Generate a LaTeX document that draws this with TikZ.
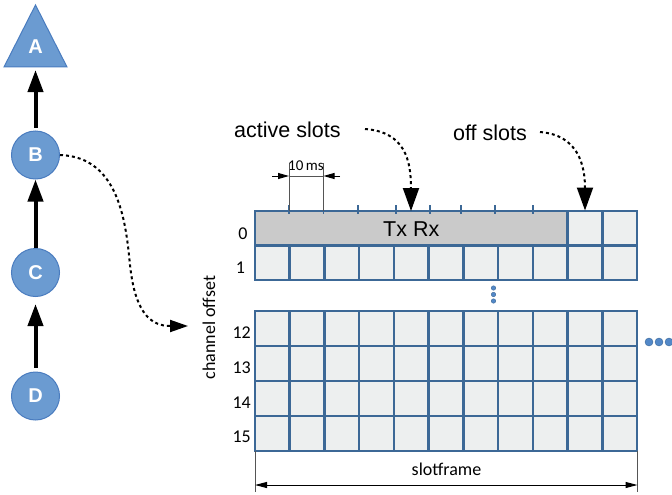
\documentclass[tikz,border=0pt]{standalone}
\usepackage{fontspec}
\setmainfont{Liberation Sans}
\newfontfamily\carl{Carlito}
\usetikzlibrary{arrows.meta}
\definecolor{nodefill}{HTML}{6B9BD1}
\definecolor{nodeedge}{HTML}{4A7CBF}
\definecolor{gridcol}{HTML}{3C6896}
\definecolor{cellfill}{HTML}{EDEFEF}
\definecolor{activefill}{HTML}{CACACA}
\definecolor{dotblue}{HTML}{5288C8}
\definecolor{dimgray}{HTML}{555555}
\begin{document}
\begin{tikzpicture}[x=1pt,y=-1pt,
  netnode/.style={circle,fill=nodefill,draw=nodeedge,line width=1pt,minimum size=48pt,inner sep=0pt,text=white,font=\fontsize{20}{20}\selectfont\bfseries},
  lettr/.style={text=white,inner sep=0pt,font=\fontsize{20}{20}\selectfont\bfseries},
  tree/.style={line width=4pt,-{Triangle[width=15pt,length=22pt]}},
  dotarrow/.style={line width=2pt,dash pattern=on 3pt off 3pt,-{Triangle[width=16pt,length=23pt]}},
  dotarrowb/.style={line width=2pt,dash pattern=on 3pt off 3pt,-{Triangle[width=12pt,length=18pt]}},
  gridl/.style={draw=gridcol,line width=2.5pt},
  tick/.style={draw=gridcol,line width=1.5pt},
  dimline/.style={draw=dimgray,line width=1pt},
  dimarrow/.style={draw=black,line width=1pt,-{Triangle[width=6pt,length=11pt]}},
  lbl/.style={inner sep=0pt,font=\fontsize{21.5}{24}\selectfont},
  rowlbl/.style={inner sep=0pt,anchor=base,font=\carl\fontsize{18}{20}\selectfont},
  smalllbl/.style={inner sep=0pt,font=\carl\fontsize{15}{17}\selectfont},
  dotsty/.style={circle,fill=dotblue,draw=gridcol,line width=0.4pt,inner sep=0pt}
]
\useasboundingbox (0,0) rectangle (672,495);

% ---------- tree ----------
\draw[fill=nodefill,draw=nodeedge,line width=1pt] (4,67) -- (35.5,5) -- (67,67) -- cycle;
\node[lettr] (A) at (35.5,47) {A};
\coordinate (Atip) at (35.5,70);
\node[netnode] (B) at (35.5,155) {B};
\node[netnode] (C) at (35.5,272.5) {C};
\node[netnode] (D) at (35.5,396) {D};
\draw[tree,shorten <=3pt] (B) -- (Atip);
\draw[tree] (C) -- (B);
\draw[tree,shorten <=4pt,shorten >=7pt] (D) -- (C);

% ---------- grid block rows 0-1 ----------
\fill[cellfill] (255,211) rectangle (637,280);
\fill[activefill] (255,211) rectangle (567.5,245.5);
\draw[gridl] (255,211) rectangle (637,280);
\draw[gridl] (255,245.5) -- (637,245.5);
\draw[gridl] (567.5,211) -- (567.5,245.5);
\draw[gridl] (602.3,211) -- (602.3,245.5);
\foreach \i in {1,...,10}{
  \draw[gridl] ({255+\i*34.727},245.5) -- ({255+\i*34.727},280);
}
% ticks
\foreach \x in {289,323.5,358,396,430,461,495,533}{
  \draw[tick] (\x,205) -- (\x,214);
}

% ---------- grid block rows 12-15 ----------
\fill[cellfill] (255,311) rectangle (637,451);
\foreach \i in {1,...,10}{
  \draw[gridl] ({255+\i*34.727},311) -- ({255+\i*34.727},451);
}
\foreach \r in {1,2,3}{
  \draw[gridl] (255,{311+\r*35}) -- (637,{311+\r*35});
}
\draw[gridl] (255,311) rectangle (637,451);

% ---------- dots ----------
\foreach \y [count=\k] in {288,294.5,301}{
  \node[dotsty,minimum size=4.5pt] (vd\k) at (493.5,\y) {};
}
\foreach \x [count=\k] in {649,659,669}{
  \node[dotsty,minimum size=8pt] (hd\k) at (\x,342) {};
}

% ---------- labels ----------
\node[lbl,anchor=base west] (act) at (234,137) {active slots};
\node[lbl,anchor=base west] (off) at (453,140) {off slots};
\node[lbl,anchor=base west] (txrx) at (383,236) {Tx Rx};
\node[rowlbl] (r0) at (243,239) {0};
\node[rowlbl] (r1) at (240.5,273) {1};
\node[rowlbl] (r12) at (241.7,338) {12};
\node[rowlbl] (r13) at (241.7,373) {13};
\node[rowlbl] (r14) at (241.7,408) {14};
\node[rowlbl] (r15) at (241.7,442.5) {15};
\node[inner sep=0pt,rotate=90,anchor=base,font=\carl\fontsize{18}{20}\selectfont] (chan) at (215,327.5) {channel offset};

% ---------- dotted arrows ----------
\coordinate (actstart) at (365,129);
\coordinate (acttip) at (411,211);
\draw[dotarrow] (actstart) .. controls (405,132) and (411,160) .. (acttip);
\coordinate (offstart) at (540,132);
\coordinate (offtip) at (585,210.5);
\draw[dotarrow] (offstart) .. controls (578,135) and (585,165) .. (offtip);
\coordinate (gridin) at (188,326);
\draw[dotarrowb] (B.east) .. controls (120,157) and (126,225) .. (130,265) .. controls (135,312) and (150,326) .. (gridin);

% ---------- 10 ms dimension ----------
\coordinate (ms1) at (289,211);
\coordinate (ms2) at (323.5,211);
\draw[dimline] (ms1) -- (289,163);
\draw[dimline] (ms2) -- (323.5,163);
\draw[dimline] (289,176) -- (323.5,176);
\coordinate (msl) at (272,176);
\coordinate (msr) at (340,176);
\draw[dimarrow] (msl) -- (289,176);
\draw[dimarrow] (msr) -- (323.5,176);
\node[smalllbl,anchor=base] (ms) at (306,170.5) {10\,ms};

% ---------- slotframe dimension ----------
\draw[dimline] (255,451) -- (255,492);
\draw[dimline] (637.5,451) -- (637.5,492);
\coordinate (sfl) at (255,485);
\coordinate (sfr) at (637.5,485);
\draw[draw=black,line width=1pt,{Triangle[width=6pt,length=12pt]}-{Triangle[width=6pt,length=12pt]}] (sfl) -- (sfr);
\node[inner sep=0pt,anchor=base,font=\carl\fontsize{18}{20}\selectfont] (sf) at (446.5,475) {slotframe};
\end{tikzpicture}
\end{document}
